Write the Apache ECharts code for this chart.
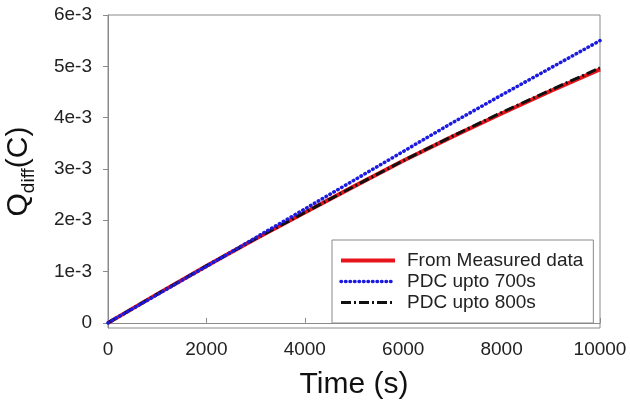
<!DOCTYPE html>
<html>
<head>
<meta charset="utf-8">
<script src="https://cdn.jsdelivr.net/npm/echarts@6/dist/echarts.min.js"></script>
<style>
  html, body { margin: 0; padding: 0; background: #fff; }
  #chart { width: 630px; height: 409px; }
</style>
</head>
<body>
<div id="chart"></div>
<script>
const times = [0, 1000, 2000, 3000, 4000, 5000, 6000, 7000, 8000, 9000, 10000];
const measured = [0, 0.56e-3, 1.11e-3, 1.64e-3, 2.15e-3, 2.66e-3, 3.16e-3, 3.63e-3, 4.08e-3, 4.52e-3, 4.94e-3];
const pdc700 = [0, 0.55e-3, 1.10e-3, 1.66e-3, 2.22e-3, 2.78e-3, 3.34e-3, 3.90e-3, 4.44e-3, 4.97e-3, 5.50e-3];
const pdc800 = [0, 0.56e-3, 1.11e-3, 1.64e-3, 2.15e-3, 2.66e-3, 3.16e-3, 3.64e-3, 4.10e-3, 4.54e-3, 4.97e-3];
const yTicks = [0, 0.001, 0.002, 0.003, 0.004, 0.005, 0.006];

const pair = (ys) => times.map((t, i) => [t, ys[i]]);
const font = 'Liberation Sans, Arial, sans-serif';

const styles = {
  measured: { color: '#e8141c', width: 4 },
  pdc700: { color: '#1a1ae0', width: 3.5, type: [0.5, 4], cap: 'round' },
  pdc800: { color: '#111', width: 3, type: [10, 3, 2, 3] }
};

const chart = echarts.init(document.getElementById('chart'));
chart.setOption({
  animation: false,
  grid: {
    left: 108, right: 30, top: 15, bottom: 81,
    outerBoundsMode: 'none',
    show: true, borderColor: '#8a8a8a', borderWidth: 1
  },
  legend: {
    orient: 'vertical',
    left: 332, top: 240,
    padding: [11, 10, 11, 7],
    itemWidth: 54, itemHeight: 14, itemGap: 2,
    backgroundColor: '#fff',
    borderColor: '#8a8a8a', borderWidth: 1,
    itemStyle: { opacity: 0 },
    textStyle: { fontFamily: font, fontSize: 19, color: '#222', padding: [0, 0, 0, 7], lineHeight: 19 },
    data: [
      { name: 'From Measured data', lineStyle: styles.measured },
      { name: 'PDC upto 700s', lineStyle: styles.pdc700 },
      { name: 'PDC upto 800s', lineStyle: styles.pdc800 }
    ]
  },
  xAxis: {
    type: 'value',
    min: 0, max: 10000, interval: 2000,
    name: 'Time (s)',
    nameLocation: 'middle',
    nameGap: 42,
    nameTextStyle: { fontFamily: font, fontSize: 30, color: '#111' },
    axisLine: { lineStyle: { color: '#8a8a8a' } },
    axisTick: { inside: true, length: 5, lineStyle: { color: '#8a8a8a' } },
    axisLabel: { fontFamily: font, fontSize: 19, color: '#222', margin: 12, formatter: (v) => String(v) },
    splitLine: { show: false }
  },
  yAxis: {
    type: 'value',
    min: -0.0001, max: 0.006,
    name: '{q|Q}{s|diff}{q|(C)}',
    nameLocation: 'middle',
    nameRotate: 90,
    nameGap: 74,
    nameTextStyle: {
      rich: {
        q: { fontFamily: font, fontSize: 30, color: '#111' },
        s: { fontFamily: font, fontSize: 19, color: '#111', verticalAlign: 'bottom', padding: [0, 0, -4, 0] }
      }
    },
    axisLine: { lineStyle: { color: '#8a8a8a' } },
    axisTick: { length: 5, customValues: yTicks, lineStyle: { color: '#8a8a8a' } },
    axisLabel: {
      fontFamily: font, fontSize: 19, color: '#222', margin: 16,
      customValues: yTicks,
      formatter: (v) => v === 0 ? '0' : Math.round(v * 1000) + 'e-3'
    },
    splitLine: { show: false }
  },
  series: [
    {
      name: 'From Measured data', type: 'line', symbol: 'none', z: 2,
      data: pair(measured),
      lineStyle: styles.measured,
      itemStyle: { color: styles.measured.color }
    },
    {
      name: 'PDC upto 800s', type: 'line', symbol: 'none', z: 3,
      data: pair(pdc800),
      lineStyle: styles.pdc800,
      itemStyle: { color: styles.pdc800.color }
    },
    {
      name: 'PDC upto 700s', type: 'line', symbol: 'none', z: 4,
      data: pair(pdc700),
      lineStyle: styles.pdc700,
      itemStyle: { color: styles.pdc700.color }
    }
  ]
});
</script>
</body>
</html>
